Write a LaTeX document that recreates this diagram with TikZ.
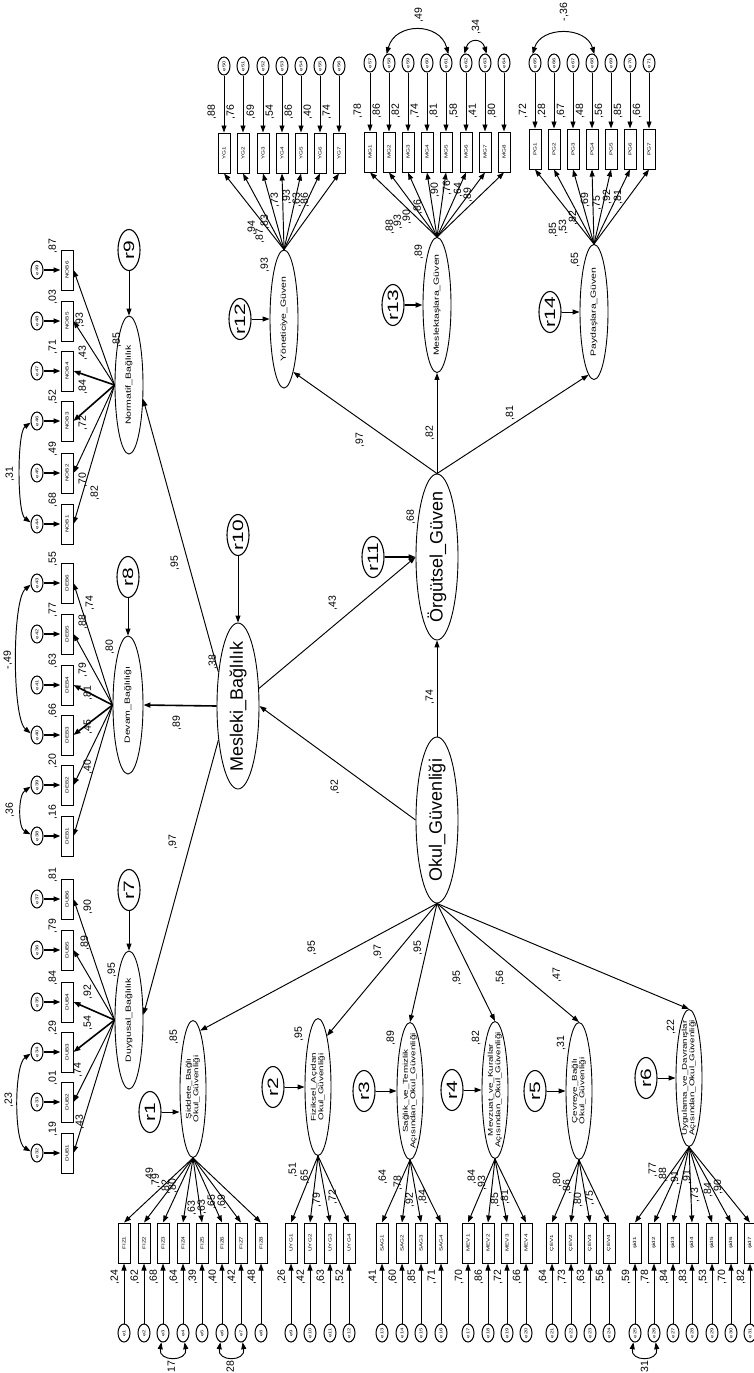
\documentclass[tikz,border=0pt]{standalone}
\usepackage{fontspec}
\setmainfont{Liberation Sans}
\usetikzlibrary{shapes.geometric,arrows.meta}
\newcommand{\rtxt}[2][1]{\rotatebox{90}{\makebox[0pt]{\scalebox{#1}[1]{#2}}}}
\newcommand{\twol}[2]{\begin{tabular}{@{}c@{}}#1\\#2\end{tabular}}
\begin{document}
\begin{tikzpicture}[x=1pt,y=-1pt,
 lat/.style={ellipse, draw, line width=0.9pt, inner sep=0pt},
 obs/.style={rectangle, draw, line width=1pt, minimum width=12pt, minimum height=40pt, inner sep=0pt, font=\fontsize{4.5}{5}\selectfont},
 err/.style={ellipse, draw, line width=1pt, minimum width=12pt, minimum height=18pt, inner sep=0pt, font=\fontsize{4}{4}\selectfont},
 res/.style={ellipse, draw, line width=1.1pt, minimum width=22pt, minimum height=41pt, inner sep=0pt, font=\fontsize{15}{15}\selectfont},
 arr/.style={-{Triangle[length=7pt,width=5pt]}, line width=0.95pt},
 bold/.style={line width=1.6pt},
 cov/.style={{Triangle[length=7pt,width=5pt]}-{Triangle[length=7pt,width=5pt]}, line width=0.95pt},
 lab/.style={inner sep=0pt, font=\fontsize{10.5}{10.5}\selectfont},
 big/.style={lat, minimum width=42pt, minimum height=166pt, font=\fontsize{18}{18}\selectfont},
 mid/.style={lat, minimum width=28pt, minimum height=138pt, font=\fontsize{7.5}{8}\selectfont},
 sub/.style={lat, minimum width=26pt, minimum height=137pt, font=\fontsize{7}{7.5}\selectfont}
]
\useasboundingbox (0,0) rectangle (754,1373);
\fill[white] (0,0) rectangle (754,1373);

% ---------- latent variables ----------
\node[mid] (Nor) at (129,385) {\rtxt[1.4]{Normatif\_Bağlılık}};
\node[mid, minimum width=30pt] (Dev) at (128,705) {\rtxt[1.4]{Devam\_Bağlılığı}};
\node[mid] (Duy) at (129,1020) {\rtxt[1.4]{Duygusal\_Bağlılık}};
\node[big] (Mes) at (238,706) {\rtxt{Mesleki\_Bağlılık}};
\node[big] (Org) at (437,557) {\rtxt{Örgütsel\_Güven}};
\node[big] (Okul) at (437,820) {\rtxt{Okul\_Güvenliği}};
\node[mid] (Yon) at (284,319) {\rtxt[1.4]{Yöneticiye\_Güven}};
\node[mid, minimum height=135pt] (Msl) at (437,305) {\rtxt[1.4]{Meslektaşlara\_Güven}};
\node[mid, minimum height=135pt] (Pay) at (594,312) {\rtxt[1.4]{Paydaşlara\_Güven}};

\node[sub] (Sid) at (193,1089) {\rtxt[1.4]{\twol{Şiddete\_Bağlı}{Okul\_Güvenliği}}};
\node[sub] (Fiz) at (318,1087) {\rtxt[1.4]{\twol{Fiziksel\_Açıdan}{Okul\_Güvenliği}}};
\node[sub] (Sag) at (410,1091) {\rtxt[1.4]{\twol{Sağlık\_ve\_Temizlik}{Açısından\_Okul\_Güvenliği}}};
\node[sub] (Mev) at (495,1090) {\rtxt[1.4]{\twol{Mevzuat\_ve\_Kurallar}{Açısından\_Okul\_Güvenliği}}};
\node[sub] (Cev) at (579,1091) {\rtxt[1.4]{\twol{Çevreye\_Bağlı}{Okul\_Güvenliği}}};
\node[sub] (Uyg) at (689,1078) {\rtxt[1.4]{\twol{Uygulama\_ve\_Davranışlar}{Açısından\_Okul\_Güvenliği}}};

% ---------- residuals ----------
\node[res] (r9) at (129,250) {\rtxt[1.4]{r9}};
\node[res] (r8) at (128,577) {\rtxt[1.4]{r8}};
\node[res] (r7) at (129,890) {\rtxt[1.4]{r7}};
\node[res] (r10) at (238,535) {\rtxt[1.4]{r10}};
\node[res] (r11) at (373,557) {\rtxt[1.4]{r11}};
\node[res] (r12) at (240,319) {\rtxt[1.4]{r12}};
\node[res] (r13) at (393,305) {\rtxt[1.4]{r13}};
\node[res] (r14) at (550,312) {\rtxt[1.4]{r14}};
\node[res] (r1) at (150,1112) {\rtxt[1.4]{r1}};
\node[res] (r2) at (273,1087) {\rtxt[1.4]{r2}};
\node[res] (r3) at (364,1091) {\rtxt[1.4]{r3}};
\node[res] (r4) at (452,1090) {\rtxt[1.4]{r4}};
\node[res] (r5) at (535,1091) {\rtxt[1.4]{r5}};
\node[res] (r6) at (646,1078) {\rtxt[1.4]{r6}};

\draw[arr] (r9) -- (Nor);
\draw[arr] (r8) -- (Dev);
\draw[arr] (r7) -- (Duy);
\draw[arr] (r10) -- (Mes);
\draw[arr, bold] (r11) -- (Org);
\draw[arr] (r12) -- (Yon);
\draw[arr, bold] (r13) -- (Msl);
\draw[arr] (r14) -- (Pay);
\draw[arr] (r1) -- (r1 -| Sid.west);
\draw[arr] (r2) -- (Fiz);
\draw[arr] (r3) -- (Sag);
\draw[arr] (r4) -- (Mev);
\draw[arr] (r5) -- (Cev);
\draw[arr] (r6) -- (Uyg);

% ---------- structural paths ----------
\draw[arr] (Okul.north) -- (Org.south);
\draw[arr] (Okul.west) -- (Mes.east);
\draw[arr] (Mes.40) -- (Org.west);
\draw[arr] (Org.north) -- (Yon.-80);
\draw[arr] (Org.north) -- (Msl.south);
\draw[arr] (Org.north) -- (Pay.-95);
\draw[arr] (Mes.120) -- (Nor.-45);
\draw[arr, bold] (Mes.west) -- (Dev.east);
\draw[arr] (Mes.-120) -- (Duy.20);
\draw[arr] (Okul.south) -- (Sid.83);
\draw[arr] (Okul.south) -- (Fiz.80);
\draw[arr] (Okul.south) -- (Sag.north);
\draw[arr] (Okul.south) -- (Mev.north);
\draw[arr] (Okul.south) -- (Cev.north);
\draw[arr] (Okul.south) -- (Uyg.north);

% ---------- structural labels ----------
\node[lab] (L1) at (335,787) {\rtxt{,62}};
\node[lab] (L2) at (333,603) {\rtxt{,43}};
\node[lab] (L3) at (430,697) {\rtxt{,74}};
\node[lab] (L4) at (411,517) {\rtxt{,68}};
\node[lab] (L5) at (360,440) {\rtxt{,97}};
\node[lab] (L6) at (430,433) {\rtxt{,82}};
\node[lab] (L7) at (510,413) {\rtxt{,81}};
\node[lab] (L8) at (265,265) {\rtxt{,93}};
\node[lab] (L9) at (419,252) {\rtxt{,89}};
\node[lab] (L10) at (575,260) {\rtxt{,65}};
\node[lab] (L11) at (175,563) {\rtxt{,95}};
\node[lab] (L12) at (177,723) {\rtxt{,89}};
\node[lab] (L13) at (173,842) {\rtxt{,97}};
\node[lab] (L14) at (213,662) {\rtxt{,38}};
\node[lab] (L15) at (117,340) {\rtxt{,85}};
\node[lab] (L16) at (110,647) {\rtxt{,80}};
\node[lab] (L17) at (112,970) {\rtxt{,95}};
\node[lab] (L18) at (312,948) {\rtxt{,95}};
\node[lab] (L19) at (378,952) {\rtxt{,97}};
\node[lab] (L20) at (418,948) {\rtxt{,95}};
\node[lab] (L21) at (457,978) {\rtxt{,95}};
\node[lab] (L22) at (500,978) {\rtxt{,56}};
\node[lab] (L23) at (557,975) {\rtxt{,47}};
\node[lab] (L24) at (174,1037) {\rtxt{,85}};
\node[lab] (L25) at (299,1034) {\rtxt{,95}};
\node[lab] (L26) at (391,1038) {\rtxt{,89}};
\node[lab] (L27) at (476,1038) {\rtxt{,82}};
\node[lab] (L28) at (561,1043) {\rtxt{,31}};
\node[lab] (L29) at (671,1027) {\rtxt{,22}};

% ---------- left indicator groups ----------
\foreach \nn/\yy/\ee/\sv/\lv/\lx/\ly/\lw in {1/524/44/68/82/95/493/0.95,2/473/45/49/70/83/480/0.95,3/421/46/52/72/83/423/1.6,4/371/47/71/84/83/387/1.6,5/321/48/03/43/83/353/0.95,6/270/49/87/93/80/320/0.95}{
  \node[obs] (NOB\nn) at (67,\yy) {\rtxt[1.4]{NOB\nn}};
  \node[err] (e\ee) at (37,\yy) {\rtxt[1.5]{e\ee}};
  \draw[arr, bold] (e\ee) -- (NOB\nn);
  \draw[arr, line width=\lw pt] (Nor.west) -- (NOB\nn.east);
  \node[lab] (sNOB\nn) at (53,\yy-24) {\rtxt{,\sv}};
  \node[lab] (lNOB\nn) at (\lx,\ly) {\rtxt{,\lv}};
}
\foreach \nn/\yy/\ee/\sv/\lv/\lx/\ly/\lw in {1/836/38/16/40/88/767/0.95,2/785/39/20/45/88/727/0.95,3/735/40/66/81/88/693/1.6,4/685/41/63/79/83/670/1.6,5/634/42/77/88/83/622/0.95,6/583/43/55/74/90/603/0.95}{
  \node[obs] (DEB\nn) at (67,\yy) {\rtxt[1.4]{DEB\nn}};
  \node[err] (e\ee) at (37,\yy) {\rtxt[1.5]{e\ee}};
  \draw[arr, bold] (e\ee) -- (DEB\nn);
  \draw[arr, line width=\lw pt] (Dev.west) -- (DEB\nn.east);
  \node[lab] (sDEB\nn) at (53,\yy-24) {\rtxt{,\sv}};
  \node[lab] (lDEB\nn) at (\lx,\ly) {\rtxt{,\lv}};
}
\foreach \nn/\yy/\ee/\sv/\lv/\lx/\ly/\lw in {1/1153/32/19/43/80/1122/0.95,2/1102/33/01/74/78/1070/0.95,3/1052/34/29/54/88/1023/1.6,4/1002/35/84/92/88/992/1.6,5/950/36/79/89/85/943/0.95,6/899/37/81/90/88/907/0.95}{
  \node[obs] (DUB\nn) at (67,\yy) {\rtxt[1.4]{DUB\nn}};
  \node[err] (e\ee) at (37,\yy) {\rtxt[1.5]{e\ee}};
  \draw[arr, bold] (e\ee) -- (DUB\nn);
  \draw[arr, line width=\lw pt] (Duy.west) -- (DUB\nn.east);
  \node[lab] (sDUB\nn) at (53,\yy-24) {\rtxt{,\sv}};
  \node[lab] (lDUB\nn) at (\lx,\ly) {\rtxt{,\lv}};
}

% ---------- top indicator groups ----------
\foreach \nn/\xx/\ee/\sv/\lv/\lx/\ly in {1/224/50/88/94/252/228,2/243/51/76/87/260/236,3/263/52/69/83/265/222,4/282/53/54/73/275/200,5/301/54/86/93/287/197,6/320/55/40/63/297/200,7/339/56/74/86/305/200}{
  \node[obs] (YG\nn) at (\xx,153) {\rtxt[1.4]{YG\nn}};
  \node[err] (e\ee) at (\xx,66) {\rtxt[1.5]{e\ee}};
  \draw[arr] (e\ee) -- (YG\nn);
  \draw[arr] (Yon.north) -- (YG\nn.south);
  \node[lab] (sYG\nn) at (\xx-12,112) {\rtxt{,\sv}};
  \node[lab] (lYG\nn) at (\lx,\ly) {\rtxt{,\lv}};
}
\foreach \nn/\xx/\ee/\sv/\lv/\lx/\ly in {1/370/57/78/88/390/227,2/389/58/86/93/398/222,3/408/59/82/90/407/217,4/427/60/74/86/418/207,5/446/61/81/90/435/190,6/466/62/58/76/447/188,7/485/63/41/64/458/190,8/504/64/80/89/468/195}{
  \node[obs] (MG\nn) at (\xx,152) {\rtxt[1.4]{MG\nn}};
  \node[err] (e\ee) at (\xx,63) {\rtxt[1.5]{e\ee}};
  \draw[arr] (e\ee) -- (MG\nn);
  \draw[arr] (Msl.north) -- (MG\nn.south);
  \node[lab] (sMG\nn) at (\xx-12,111) {\rtxt{,\sv}};
  \node[lab] (lMG\nn) at (\lx,\ly) {\rtxt{,\lv}};
}
\foreach \nn/\xx/\ee/\sv/\lv/\lx/\ly in {1/535/65/72/85/553/230,2/554/66/28/53/563/227,3/573/67/67/82/573/218,4/592/68/48/69/585/200,5/611/69/56/75/597/203,6/630/70/85/92/607/197,7/649/71/66/81/618/197}{
  \node[obs] (PG\nn) at (\xx,149) {\rtxt[1.4]{PG\nn}};
  \node[err] (e\ee) at (\xx,63) {\rtxt[1.5]{e\ee}};
  \draw[arr] (e\ee) -- (PG\nn);
  \draw[arr] (Pay.north) -- (PG\nn.south);
  \node[lab] (sPG\nn) at (\xx-12,111) {\rtxt{,\sv}};
  \node[lab] (lPG\nn) at (\lx,\ly) {\rtxt{,\lv}};
}

% ---------- bottom indicator groups ----------
\foreach \nn/\xx/\ee/\sv/\lv/\lx/\ly in {1/124/1/24/49/150/1175,2/144/2/62/79/156/1181,3/163/3/68/82/166/1187,4/183/4/64/80/173/1186,5/202/5/39/63/192/1208,6/222/6/40/63/202/1207,7/241/7/42/65/212/1202,8/261/8/48/69/222/1202}{
  \node[obs] (FIZ\nn) at (\xx,1243) {\rtxt[1.4]{FIZ\nn}};
  \node[err] (e\ee) at (\xx,1333) {\rtxt[1.5]{e\ee}};
  \draw[arr] (e\ee) -- (FIZ\nn);
  \draw[arr] (Sid.south) -- (FIZ\nn.north);
  \node[lab] (sFIZ\nn) at (\xx-9,1277) {\rtxt{,\sv}};
  \node[lab] (lFIZ\nn) at (\lx,\ly) {\rtxt{,\lv}};
}
\foreach \nn/\xx/\ee/\sv/\lv/\lx/\ly in {1/291/9/26/51/293/1170,2/310/10/42/65/305/1177,3/330/11/63/79/317/1200,4/349/12/52/72/333/1197}{
  \node[obs] (UYG\nn) at (\xx,1243) {\rtxt[1.4]{UYG\nn}};
  \node[err] (e\ee) at (\xx,1333) {\rtxt[1.5]{e\ee}};
  \draw[arr] (e\ee) -- (UYG\nn);
  \draw[arr] (Fiz.south) -- (UYG\nn.north);
  \node[lab] (sUYG\nn) at (\xx-9,1277) {\rtxt{,\sv}};
  \node[lab] (lUYG\nn) at (\lx,\ly) {\rtxt{,\lv}};
}
\foreach \nn/\xx/\ee/\sv/\lv/\lx/\ly in {1/382/13/41/64/383/1177,2/402/14/60/78/398/1183,3/421/15/85/92/410/1200,4/441/16/71/84/423/1197}{
  \node[obs] (SAG\nn) at (\xx,1243) {\rtxt[1.4]{SAG\nn}};
  \node[err] (e\ee) at (\xx,1333) {\rtxt[1.5]{e\ee}};
  \draw[arr] (e\ee) -- (SAG\nn);
  \draw[arr] (Sag.south) -- (SAG\nn.north);
  \node[lab] (sSAG\nn) at (\xx-9,1277) {\rtxt{,\sv}};
  \node[lab] (lSAG\nn) at (\lx,\ly) {\rtxt{,\lv}};
}
\foreach \nn/\xx/\ee/\sv/\lv/\lx/\ly in {1/468/17/70/84/472/1177,2/488/18/86/93/482/1183,3/507/19/72/85/495/1200,4/526/20/66/81/505/1197}{
  \node[obs] (MEV\nn) at (\xx,1243) {\rtxt[1.4]{MEV\nn}};
  \node[err] (e\ee) at (\xx,1333) {\rtxt[1.5]{e\ee}};
  \draw[arr] (e\ee) -- (MEV\nn);
  \draw[arr] (Mev.south) -- (MEV\nn.north);
  \node[lab] (sMEV\nn) at (\xx-9,1277) {\rtxt{,\sv}};
  \node[lab] (lMEV\nn) at (\lx,\ly) {\rtxt{,\lv}};
}
\foreach \nn/\xx/\ee/\sv/\lv/\lx/\ly in {1/552/21/64/80/557/1180,2/571/22/73/86/567/1187,3/590/23/63/80/578/1200,4/609/24/56/75/590/1198}{
  \node[obs] (CEV\nn) at (\xx,1243) {\rtxt[1.4]{ÇEV\nn}};
  \node[err] (e\ee) at (\xx,1333) {\rtxt[1.5]{e\ee}};
  \draw[arr] (e\ee) -- (CEV\nn);
  \draw[arr] (Cev.south) -- (CEV\nn.north);
  \node[lab] (sCEV\nn) at (\xx-9,1277) {\rtxt{,\sv}};
  \node[lab] (lCEV\nn) at (\lx,\ly) {\rtxt{,\lv}};
}
\foreach \nn/\xx/\ee/\sv/\lv/\lx/\ly in {1/635/25/59/77/653/1170,2/654/26/78/88/663/1175,3/673/27/84/91/675/1178,4/692/28/83/91/687/1177,5/712/29/53/73/695/1195,6/731/30/70/84/708/1190,7/750/31/82/90/718/1187}{
  \node[obs] (SID\nn) at (\xx,1243) {\rtxt[1.4]{şid\nn}};
  \node[err] (e\ee) at (\xx,1333) {\rtxt[1.5]{e\ee}};
  \draw[arr] (e\ee) -- (SID\nn);
  \draw[arr] (Uyg.south) -- (SID\nn.north);
  \node[lab] (sSID\nn) at (\xx-9,1277) {\rtxt{,\sv}};
  \node[lab] (lSID\nn) at (\lx,\ly) {\rtxt{,\lv}};
}

% ---------- covariances ----------
\draw[cov] (e46.195) .. controls (17,432) and (17,513) .. (e44.165);
\node[lab] (c1) at (10,474) {\rtxt{,31}};
\draw[cov] (e43.195) .. controls (12,600) and (12,718) .. (e40.165);
\node[lab] (c2) at (8,660) {\rtxt{-,49}};
\draw[cov] (e39.195) .. controls (18,795) and (18,828) .. (e38.165);
\node[lab] (c3) at (10,810) {\rtxt{,36}};
\draw[cov] (e34.195) .. controls (14,1065) and (14,1142) .. (e32.165);
\node[lab] (c4) at (9,1100) {\rtxt{,23}};

\draw[cov] (e58.105) .. controls (395,22) and (440,22) .. (e61.75);
\node[lab] (c5) at (419,15) {\rtxt{,49}};
\draw[cov] (e62.100) .. controls (469,38) and (482,38) .. (e63.80);
\node[lab] (c6) at (476,27) {\rtxt{,34}};
\draw[cov] (e65.105) .. controls (541,26) and (586,26) .. (e68.75);
\node[lab] (c7) at (564,12) {\rtxt{-,36}};

\draw[cov] (e3.-100) .. controls (158,1362) and (188,1362) .. (e4.-80);
\node[lab] (c8) at (172,1368) {\rtxt{,17}};
\draw[cov] (e6.-100) .. controls (217,1362) and (246,1362) .. (e7.-80);
\node[lab] (c9) at (231,1368) {\rtxt{,28}};
\draw[cov] (e25.-100) .. controls (630,1362) and (659,1362) .. (e26.-80);
\node[lab] (c10) at (645,1368) {\rtxt{,31}};
\end{tikzpicture}
\end{document}
